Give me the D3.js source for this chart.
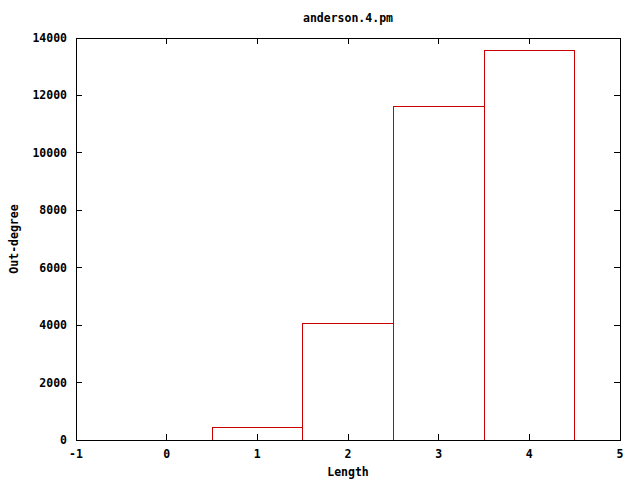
<!DOCTYPE html>
<html><head><meta charset="utf-8">
<script src="https://cdn.jsdelivr.net/npm/d3@7/dist/d3.min.js"></script>
<style>body{margin:0;background:#fff}svg{display:block}text{font-family:"DejaVu Sans Mono",monospace;font-weight:bold;font-size:11.5px;fill:#000}</style>
</head><body>
<script>
const categories = [1, 2, 3, 4];
const values = [450, 4040, 11630, 13550];
const xTicks = [-1, 0, 1, 2, 3, 4, 5];
const yTicks = [0, 2000, 4000, 6000, 8000, 10000, 12000, 14000];
const title = "anderson.4.pm";
const xLabel = "Length";
const yLabel = "Out-degree";

const W = 640, H = 480;
const m = {l: 76, r: 20, t: 38, b: 40};
const svg = d3.select("body").append("svg").attr("width", W).attr("height", H);
const x = d3.scaleLinear().domain([-1, 5]).range([m.l, W - m.r]);
const y = d3.scaleLinear().domain([0, 14000]).range([H - m.b, m.t]);
const tl = 6;

const g = svg.append("g");
// bars
g.selectAll("rect.bar").data(categories).enter().append("rect")
  .attr("x", d => x(d - 0.5)).attr("width", d => x(d + 0.5) - x(d - 0.5))
  .attr("y", (d, i) => y(values[i])).attr("height", (d, i) => y(0) - y(values[i]))
  .attr("fill", "none").attr("stroke", "#cc0000").attr("stroke-width", 1)
  .attr("shape-rendering", "crispEdges");

// ticks
const tk = svg.append("g").attr("stroke", "#000").attr("shape-rendering", "crispEdges");
yTicks.forEach(v => {
  tk.append("line").attr("x1", x(-1)).attr("x2", x(-1) + tl).attr("y1", y(v)).attr("y2", y(v));
  tk.append("line").attr("x1", x(5)).attr("x2", x(5) - tl).attr("y1", y(v)).attr("y2", y(v));
  svg.append("text").attr("x", x(-1) - 9).attr("y", y(v) + 4).attr("text-anchor", "end").text(v);
});
xTicks.forEach(v => {
  tk.append("line").attr("x1", x(v)).attr("x2", x(v)).attr("y1", y(0)).attr("y2", y(0) - tl);
  tk.append("line").attr("x1", x(v)).attr("x2", x(v)).attr("y1", y(14000)).attr("y2", y(14000) + tl);
  svg.append("text").attr("x", x(v)).attr("y", y(0) + 18).attr("text-anchor", "middle").text(v);
});
// border
svg.append("rect").attr("x", x(-1)).attr("y", y(14000)).attr("width", x(5) - x(-1)).attr("height", y(0) - y(14000))
  .attr("fill", "none").attr("stroke", "#000").attr("shape-rendering", "crispEdges");

svg.append("text").attr("x", (x(-1) + x(5)) / 2).attr("y", 22).attr("text-anchor", "middle").text(title);
svg.append("text").attr("x", (x(-1) + x(5)) / 2).attr("y", 476).attr("text-anchor", "middle").text(xLabel);
svg.append("text").attr("transform", `translate(18,${(y(0) + y(14000)) / 2}) rotate(-90)`).attr("text-anchor", "middle").text(yLabel);
</script>
</body></html>
